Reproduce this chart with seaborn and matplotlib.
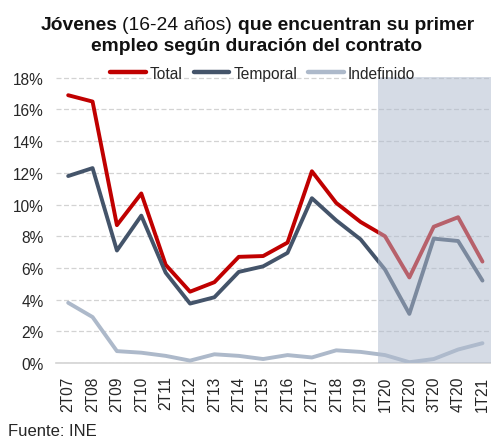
import numpy as np
import pandas as pd
import matplotlib
matplotlib.use("Agg")
import matplotlib.pyplot as plt
import seaborn as sns

# Data (share of young people 16-24 finding first job, %)
periodos = ["2T07", "2T08", "2T09", "2T10", "2T11", "2T12", "2T13", "2T14", "2T15",
            "2T16", "2T17", "2T18", "2T19", "1T20", "2T20", "3T20", "4T20", "1T21"]
total = [16.9, 16.5, 8.7, 10.7, 6.2, 4.5, 5.1, 6.7, 6.75,
         7.6, 12.1, 10.1, 8.9, 8.0, 5.4, 8.6, 9.2, 6.4]
temporal = [11.8, 12.3, 7.1, 9.3, 5.7, 3.75, 4.15, 5.75, 6.1,
            6.95, 10.4, 9.0, 7.8, 5.9, 3.1, 7.85, 7.7, 5.2]
indefinido = [3.8, 2.9, 0.75, 0.65, 0.45, 0.15, 0.55, 0.45, 0.25,
              0.5, 0.35, 0.8, 0.7, 0.5, 0.05, 0.25, 0.85, 1.25]
series = ["Total", "Temporal", "Indefinido"]
colores = ["#C00000", "#44546A", "#ADB9CA"]
yticks = [0, 2, 4, 6, 8, 10, 12, 14, 16, 18]

df = pd.DataFrame({
    "pos": np.tile(np.arange(len(periodos)), 3),
    "valor": np.array(total + temporal + indefinido) / 100,
    "serie": np.repeat(series, len(periodos)),
})

sns.set_theme(style="white")
plt.rcParams["font.family"] = ["Liberation Sans", "DejaVu Sans"]

fig = plt.figure(figsize=(4.91, 4.39), dpi=100)
ax = fig.add_axes([56 / 491, 75 / 439, 435 / 491, 286 / 439])

sns.lineplot(data=df, x="pos", y="valor", hue="serie", hue_order=series,
             palette=colores, linewidth=2.8, legend=False, ax=ax, zorder=3)

# Shaded COVID period
ax.axvspan(12.7, 17.5, color="#AFBBCE", alpha=0.52, lw=0, zorder=4)

ax.set_xlim(-0.5, 17.35)
ax.set_ylim(0, 0.1805)
ax.set_yticks([v / 100 for v in yticks])
ax.set_yticklabels([f"{v}%" for v in yticks], fontsize=11.2, color="#262626")
ax.set_xticks(range(len(periodos)))
ax.set_xticklabels(periodos, rotation=90, fontsize=11.2, color="#262626")
ax.tick_params(axis="both", length=0, pad=9)
ax.set_xlabel("")
ax.set_ylabel("")

ax.grid(axis="y", color="#D3D3D3", linestyle=(0, (4, 2)), linewidth=0.9, zorder=0)
ax.grid(axis="x", visible=False)
ax.set_axisbelow(True)
for s in ["top", "right", "left"]:
    ax.spines[s].set_visible(False)
ax.spines["bottom"].set_color("#D3D3D3")
ax.spines["bottom"].set_linewidth(1.2)

handles = [plt.Line2D([], [], color=c, lw=3.2, solid_capstyle="round") for c in colores]
ax.legend(handles, series, loc="lower center", bbox_to_anchor=(0.475, 0.965), ncol=3,
          frameon=False, fontsize=11.2, handlelength=2.3, handletextpad=0.25,
          columnspacing=0.7, borderaxespad=0)

# Title with mixed weights
fig.canvas.draw()
renderer = fig.canvas.get_renderer()
pieces = [("Jóvenes", "bold"), ("(16-24 años)", "normal"), ("que encuentran su primer", "bold")]
tsize = 13.9
space = tsize * 100 / 72 * 0.278 / 491
texts = [fig.text(0, 1 - 30 / 439, p, fontsize=tsize, fontweight=w, color="#111111")
         for p, w in pieces]
widths = [t.get_window_extent(renderer).width / 491 for t in texts]
full = sum(widths) + space * (len(widths) - 1)
x = 257 / 491 - full / 2
for t, w in zip(texts, widths):
    t.set_x(x)
    x += w + space
fig.text(257 / 491, 1 - 51 / 439, "empleo según duración del contrato", fontsize=tsize,
         fontweight="bold", ha="center", color="#111111")

fig.text(8 / 491, 1 - 436 / 439, "Fuente: INE", fontsize=12, color="#262626")

fig.savefig("out.png", dpi=100)
